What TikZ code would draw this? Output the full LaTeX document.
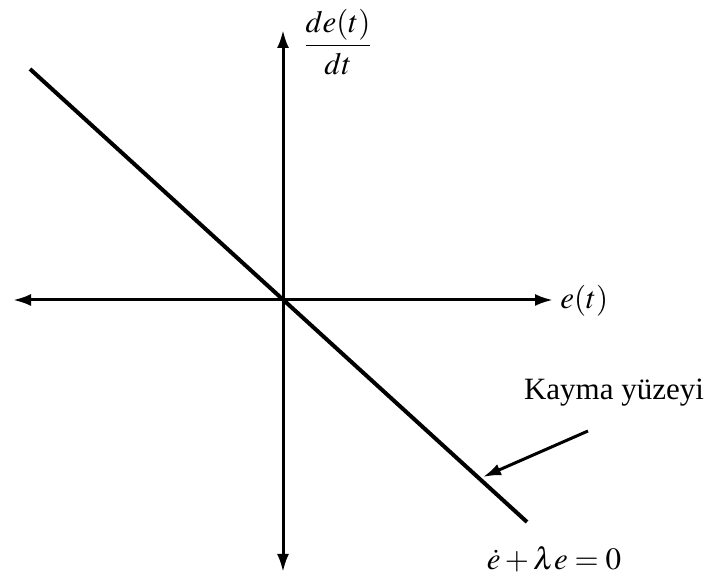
\documentclass[tikz,border=0pt]{standalone}
\usepackage{mathptmx}
\usepackage[no-math]{fontspec}
\setmainfont{Liberation Serif}
\usepackage{amsmath}
\usetikzlibrary{arrows.meta}

\begin{document}
\begin{tikzpicture}[x=0.5pt,y=-0.5pt,
    axis/.style={line width=1.5pt, {Latex[length=9pt,width=6pt]}-{Latex[length=9pt,width=6pt]}},
    surf/.style={line width=2pt},
    lbl/.style={font=\fontsize{15.5}{18}\selectfont, inner sep=0pt}]
    \useasboundingbox (0,0) rectangle (709,577);
    % axes
    \coordinate (O) at (283,300);
    \coordinate (L) at (13,300);
    \coordinate (R) at (553,300);
    \coordinate (T) at (283,30);
    \coordinate (B) at (283,572);
	\draw[axis] (L) -- (R);
	\draw[axis] (B) -- (T);
	\node[lbl] (dedt) at (338,42) {$\dfrac{de(t)}{dt}$};
	\node[lbl, anchor=west] (et) at (560,301) {$e(t)$};
    % sliding surface
    \coordinate (S1) at (30,69);
    \coordinate (S2) at (527,522);
	\draw[surf] (S1) -- (S2);
	\node[lbl] (eq) at (554,559) {$\dot{e}+\lambda e=0$};
	\node[lbl] (kayma) at (614,393) {Kayma yüzeyi};
	\coordinate (P) at (588,431);
	\coordinate (Q) at (483,477);
	\draw[line width=1.5pt, -{Latex[length=9pt,width=6pt]}] (P) -- (Q);
\end{tikzpicture}
\end{document}
